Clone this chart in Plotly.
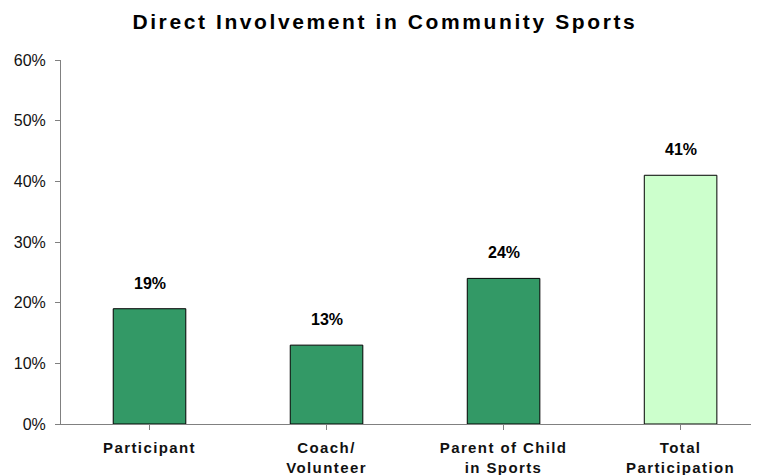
import plotly.graph_objects as go

categories = ["Participant", "Coach/<br>Volunteer", "Parent of Child<br>in Sports", "Total<br>Participation"]
values = [19, 13, 24, 41]
bar_colors = ["#339966", "#339966", "#339966", "#CCFFCC"]
y_ticks = [0, 10, 20, 30, 40, 50, 60]
y_tick_labels = ["0%", "10%", "20%", "30%", "40%", "50%", "60%"]

FONT = "Liberation Sans, Arial, sans-serif"

fig = go.Figure()
fig.add_trace(go.Bar(
    x=list(range(len(categories))),
    y=values,
    width=0.41,
    marker=dict(color=bar_colors, line=dict(color="#000000", width=1)),
    hoverinfo="skip",
))

for i, v in enumerate(values):
    fig.add_annotation(
        x=i, y=v, text=f"<b>{v}%</b>", showarrow=False,
        yanchor="bottom", yshift=15,
        font=dict(family=FONT, size=16, color="#000000"),
    )

W, H = 751, 467
fig.update_layout(
    width=W, height=H,
    margin=dict(l=53, r=0, t=52, b=51, autoexpand=False),
    paper_bgcolor="white", plot_bgcolor="white",
    showlegend=False,
    title=dict(
        text="<b>Direct Involvement in Community Sports</b>",
        x=0.464, xref="paper", xanchor="center",
        y=1 - 14 / H, yref="container", yanchor="middle",
        font=dict(family=FONT, size=21, color="#000000"),
    ),
    xaxis=dict(
        range=[-0.5, 3.443],
        tickmode="array",
        tickvals=list(range(len(categories))),
        ticktext=[f"<b>{c}</b>" for c in categories],
        tickson="boundaries",
        ticks="outside", ticklen=5, tickcolor="#808080",
        showline=True, linecolor="#808080", linewidth=1,
        showgrid=False, zeroline=False,
        tickfont=dict(family=FONT, size=15, color="#111111"),
        ticklabelstandoff=5,
        automargin=False,
        fixedrange=True,
    ),
    yaxis=dict(
        range=[0, 60],
        tickmode="array",
        tickvals=y_ticks,
        ticktext=y_tick_labels,
        ticks="outside", ticklen=5, tickcolor="#808080",
        showline=True, linecolor="#808080", linewidth=1,
        showgrid=False, zeroline=False,
        tickfont=dict(family=FONT, size=16, color="#111111"),
        ticklabelstandoff=6,
        automargin=False,
        fixedrange=True,
    ),
)

post = """
var gd = document.getElementById('{plot_id}');
function spacing() {
  gd.querySelectorAll('.gtitle').forEach(function (t) { t.style.letterSpacing = '2.6px'; });
  gd.querySelectorAll('.xtick text').forEach(function (t) { t.style.letterSpacing = '1.4px'; });
}
spacing();
gd.on('plotly_afterplot', spacing);
"""

fig.write_html("out.html", post_script=post)
